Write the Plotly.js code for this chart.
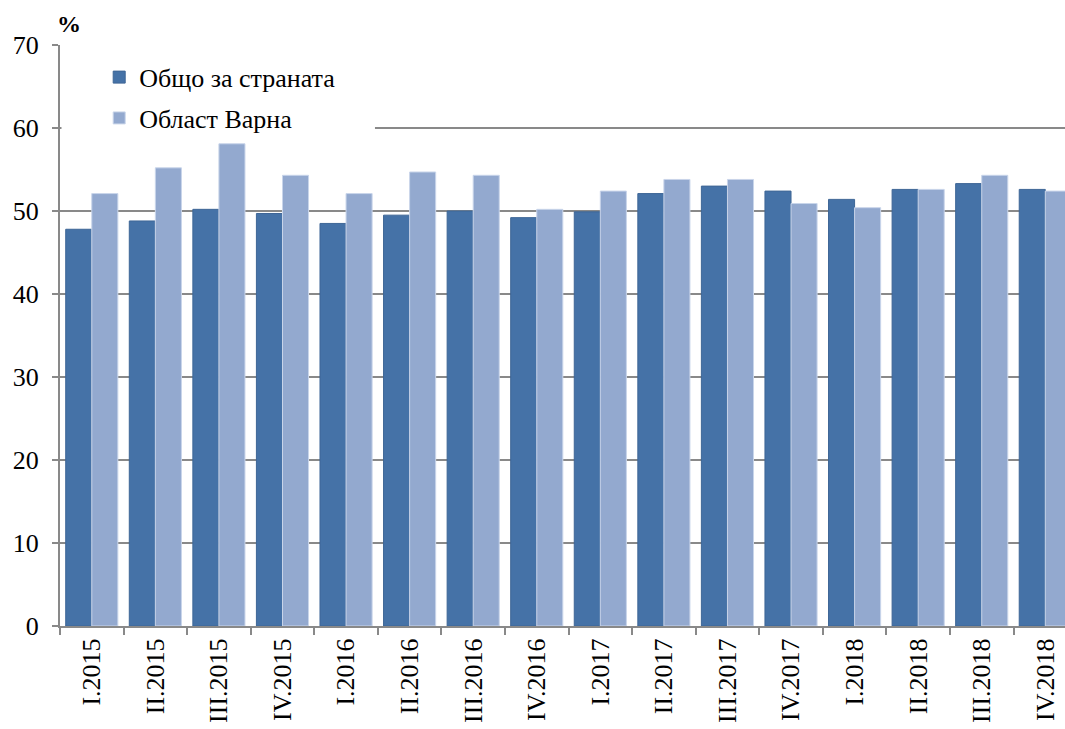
<!DOCTYPE html>
<html>
<head>
<meta charset="utf-8">
<script src="https://cdn.plot.ly/plotly-3.0.1.min.js"></script>
<style>
html,body{margin:0;padding:0;background:#fff;overflow:hidden;}
#chart{width:1065px;height:729px;}
</style>
</head>
<body>
<div id="chart"></div>
<script>
const categories = ["I.2015","II.2015","III.2015","IV.2015","I.2016","II.2016","III.2016","IV.2016",
                    "I.2017","II.2017","III.2017","IV.2017","I.2018","II.2018","III.2018","IV.2018"];
const countryValues = [47.8,48.8,50.2,49.7,48.5,49.5,50.0,49.2,49.9,52.1,53.0,52.4,51.4,52.6,53.3,52.6];
const varnaValues   = [52.1,55.2,58.1,54.3,52.1,54.7,54.3,50.2,52.4,53.8,53.8,50.9,50.4,52.6,54.3,52.4];
const seriesNames = ["Общо за страната","Област Варна"];
const yTicks = [0,10,20,30,40,50,60,70];

const font = "Liberation Serif";

const traces = [
  {type:"bar", name:seriesNames[0], x:categories, y:countryValues, legendgroup:"a",
   marker:{color:"#4572A7", line:{color:"#3E6696", width:1}}, hoverinfo:"x+y"},
  {type:"bar", name:seriesNames[1], x:categories, y:varnaValues, legendgroup:"b",
   marker:{color:"#93A9CF", line:{color:"#C9D5EA", width:1}}, hoverinfo:"x+y"}
];

const layout = {
  width:1065, height:729,
  margin:{l:60, r:0, t:45, b:103},
  paper_bgcolor:"#fff", plot_bgcolor:"#fff",
  font:{family:font},
  barmode:"group", bargap:0.18, bargroupgap:0,
  showlegend:true,
  legend:{x:0.039, y:0.985, xanchor:"left", yanchor:"top", bgcolor:"rgba(0,0,0,0)",
          font:{family:font, size:26, color:"#000"}, traceorder:"grouped", tracegroupgap:4,
          itemwidth:30},
  shapes:[{type:"rect", layer:"above", xref:"paper", yref:"paper",
           x0:0.0015, x1:0.3134, y0:0.838, y1:0.99, fillcolor:"#fff", line:{width:0}}],
  xaxis:{type:"category", range:[-0.5,15.31], tickangle:-90,
         tickfont:{family:font, size:26, color:"#000"},
         showline:true, linecolor:"#898989", linewidth:2,
         ticks:"outside", tickson:"boundaries", ticklen:7, tickcolor:"#898989", tickwidth:2,
         showgrid:false, fixedrange:true},
  yaxis:{range:[0,70], tickvals:yTicks, ticktext:yTicks.map(String),
         tickfont:{family:font, size:26, color:"#000"},
         showline:true, linecolor:"#898989", linewidth:2,
         ticks:"outside", ticklen:6, tickcolor:"#898989", tickwidth:2, ticklabelstandoff:8,
         showgrid:true, gridcolor:"#898989", gridwidth:2, zeroline:false, fixedrange:true},
  annotations:[{text:"<b>%</b>", xref:"paper", yref:"paper", x:0.0, y:1.0, xshift:-5, yshift:6,
                xanchor:"left", yanchor:"bottom", showarrow:false,
                font:{family:font, size:24, color:"#000"}}]
};

Plotly.newPlot("chart", traces, layout, {displayModeBar:false, staticPlot:true});
</script>
</body>
</html>
